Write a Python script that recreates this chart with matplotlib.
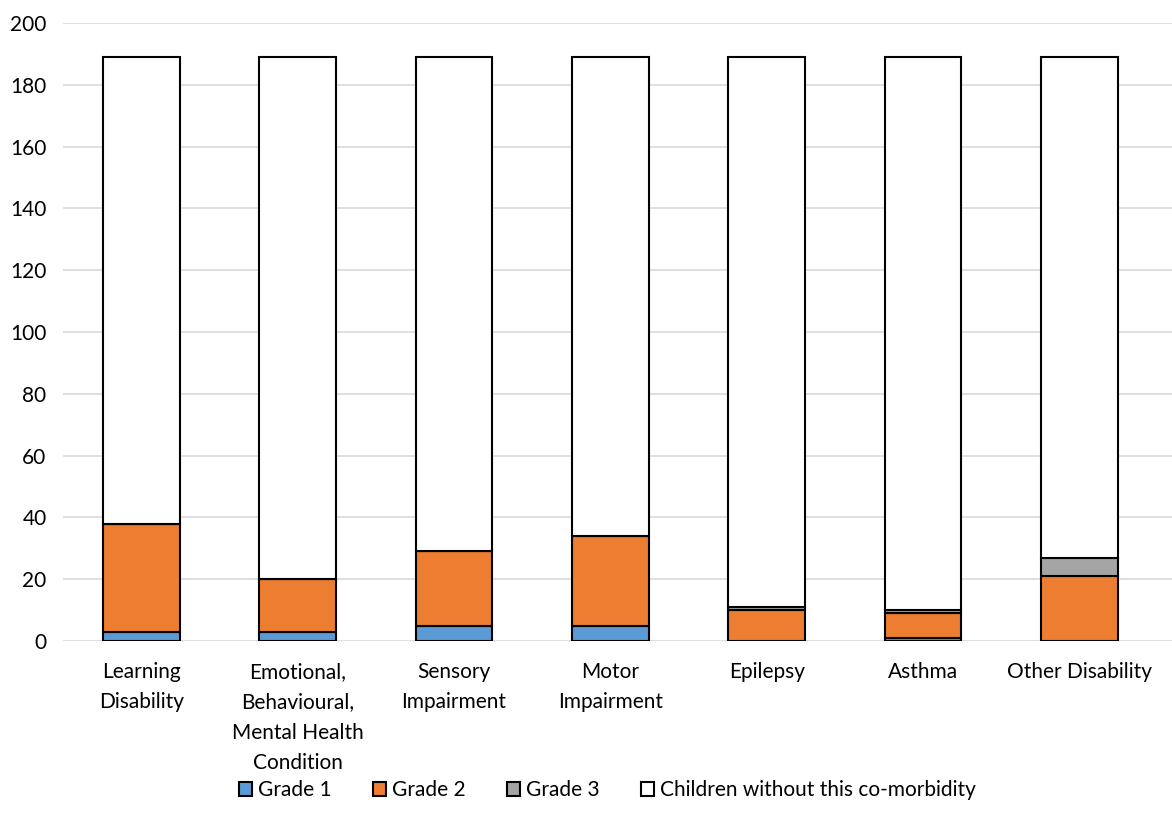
import matplotlib.pyplot as plt
import numpy as np

plt.rcParams['font.family'] = ['Lato', 'DejaVu Sans']

categories = ["Learning\nDisability", "Emotional,\nBehavioural,\nMental Health\nCondition",
              "Sensory\nImpairment", "Motor\nImpairment", "Epilepsy", "Asthma", "Other Disability"]
grade1 = [3, 3, 5, 5, 0, 1, 0]
grade2 = [35, 17, 24, 29, 10, 8, 21]
grade3 = [0, 0, 0, 0, 1, 1, 6]
without = [151, 169, 160, 155, 178, 179, 162]

series = [
    ("Grade 1", grade1, "#5b9bd5"),
    ("Grade 2", grade2, "#ed7d31"),
    ("Grade 3", grade3, "#a5a5a5"),
    ("Children without this co-morbidity", without, "#ffffff"),
]

fig = plt.figure(figsize=(11.72, 8.25), dpi=100)
ax = fig.add_axes([0.054, 0.223, 0.947, 0.749])

x = np.arange(len(categories))
bottom = np.zeros(len(categories))
for name, vals, color in series:
    ax.bar(x, vals, 0.49, bottom=bottom, color=color, edgecolor="black",
           linewidth=1.5, label=name, zorder=3)
    bottom += np.array(vals)

ax.set_ylim(0, 200)
ax.set_xlim(-0.5, 6.6)
ax.set_yticks(range(0, 201, 20))
ax.yaxis.grid(True, color="#d9d9d9", linewidth=1.2, zorder=0)
ax.set_xticks(x)
ax.set_xticklabels(categories, fontsize=15, linespacing=1.65)
ax.tick_params(axis="y", labelsize=15, length=0, pad=12)
ax.tick_params(axis="x", length=0, pad=15)
for s in ax.spines.values():
    s.set_visible(False)

ax.legend(loc="upper center", bbox_to_anchor=(0.49, -0.195), ncol=4, frameon=False,
          fontsize=15, handlelength=0.65, handleheight=0.65, handletextpad=0.25,
          columnspacing=2.0)

fig.savefig("out.png")
